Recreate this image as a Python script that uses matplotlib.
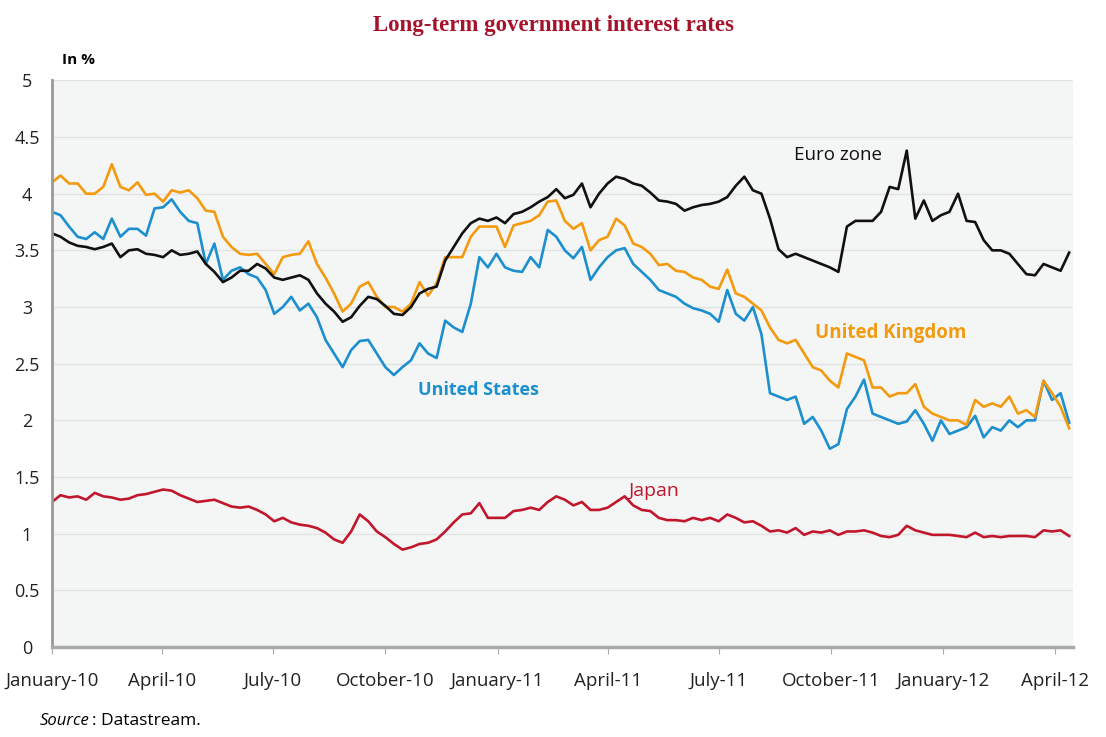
import matplotlib.pyplot as plt
import matplotlib.dates as mdates
import pandas as pd
import datetime as dt

# weekly readings, Jan 2010 - April 2012
dates = pd.date_range('2010-01-01', periods=120, freq='7D')

euro = [3.65, 3.62, 3.57, 3.54, 3.53, 3.51, 3.53, 3.56, 3.44, 3.50,
        3.51, 3.47, 3.46, 3.44, 3.50, 3.46, 3.47, 3.49, 3.38, 3.31,
        3.22, 3.26, 3.32, 3.32, 3.38, 3.34, 3.26, 3.24, 3.26, 3.28,
        3.24, 3.12, 3.03, 2.96, 2.87, 2.91, 3.01, 3.09, 3.07, 3.01,
        2.94, 2.93, 3.00, 3.12, 3.16, 3.18, 3.41, 3.53, 3.65, 3.74,
        3.78, 3.76, 3.79, 3.74, 3.82, 3.84, 3.88, 3.93, 3.97, 4.04,
        3.96, 3.99, 4.09, 3.88, 4.00, 4.09, 4.15, 4.13, 4.09, 4.07,
        4.01, 3.94, 3.93, 3.91, 3.85, 3.88, 3.90, 3.91, 3.93, 3.97,
        4.07, 4.15, 4.03, 4.00, 3.78, 3.51, 3.44, 3.47, 3.44, 3.41,
        3.38, 3.35, 3.31, 3.71, 3.76, 3.76, 3.76, 3.84, 4.06, 4.04,
        4.38, 3.78, 3.94, 3.76, 3.81, 3.84, 4.00, 3.76, 3.75, 3.59,
        3.50, 3.50, 3.47, 3.38, 3.29, 3.28, 3.38, 3.35, 3.32, 3.48]

uk = [4.10, 4.16, 4.09, 4.09, 4.00, 4.00, 4.06, 4.26, 4.06, 4.03,
      4.10, 3.99, 4.00, 3.93, 4.03, 4.01, 4.03, 3.96, 3.85, 3.84,
      3.62, 3.53, 3.47, 3.46, 3.47, 3.38, 3.29, 3.44, 3.46, 3.47,
      3.58, 3.38, 3.26, 3.12, 2.96, 3.03, 3.18, 3.22, 3.09, 3.00,
      3.00, 2.96, 3.03, 3.22, 3.10, 3.21, 3.44, 3.44, 3.44, 3.62,
      3.71, 3.71, 3.71, 3.53, 3.72, 3.74, 3.76, 3.81, 3.93, 3.94,
      3.76, 3.69, 3.74, 3.50, 3.59, 3.62, 3.78, 3.72, 3.56, 3.53,
      3.47, 3.37, 3.38, 3.32, 3.31, 3.26, 3.24, 3.18, 3.16, 3.33,
      3.12, 3.09, 3.03, 2.97, 2.82, 2.71, 2.68, 2.71, 2.59, 2.47,
      2.44, 2.35, 2.29, 2.59, 2.56, 2.53, 2.29, 2.29, 2.21, 2.24,
      2.24, 2.32, 2.12, 2.06, 2.03, 2.00, 2.00, 1.96, 2.18, 2.12,
      2.15, 2.12, 2.21, 2.06, 2.09, 2.03, 2.35, 2.24, 2.12, 1.93]

us = [3.84, 3.81, 3.71, 3.62, 3.60, 3.66, 3.60, 3.78, 3.62, 3.69,
      3.69, 3.63, 3.87, 3.88, 3.95, 3.84, 3.76, 3.74, 3.38, 3.56,
      3.24, 3.32, 3.35, 3.29, 3.26, 3.15, 2.94, 3.00, 3.09, 2.97,
      3.03, 2.91, 2.71, 2.59, 2.47, 2.62, 2.70, 2.71, 2.59, 2.47,
      2.40, 2.47, 2.53, 2.68, 2.59, 2.55, 2.88, 2.82, 2.78, 3.03,
      3.44, 3.35, 3.47, 3.35, 3.32, 3.31, 3.44, 3.35, 3.68, 3.62,
      3.50, 3.43, 3.53, 3.24, 3.35, 3.44, 3.50, 3.52, 3.38, 3.31,
      3.24, 3.15, 3.12, 3.09, 3.03, 2.99, 2.97, 2.94, 2.87, 3.15,
      2.94, 2.88, 3.00, 2.76, 2.24, 2.21, 2.18, 2.21, 1.97, 2.03,
      1.91, 1.75, 1.79, 2.10, 2.21, 2.36, 2.06, 2.03, 2.00, 1.97,
      1.99, 2.09, 1.97, 1.82, 2.00, 1.88, 1.91, 1.94, 2.04, 1.85,
      1.94, 1.91, 2.00, 1.94, 2.00, 2.00, 2.35, 2.18, 2.24, 1.98]

japan = [1.28, 1.34, 1.32, 1.33, 1.30, 1.36, 1.33, 1.32, 1.30, 1.31,
         1.34, 1.35, 1.37, 1.39, 1.38, 1.34, 1.31, 1.28, 1.29, 1.30,
         1.27, 1.24, 1.23, 1.24, 1.21, 1.17, 1.11, 1.14, 1.10, 1.08,
         1.07, 1.05, 1.01, 0.95, 0.92, 1.02, 1.17, 1.11, 1.02, 0.97,
         0.91, 0.86, 0.88, 0.91, 0.92, 0.95, 1.02, 1.10, 1.17, 1.18,
         1.27, 1.14, 1.14, 1.14, 1.20, 1.21, 1.23, 1.21, 1.28, 1.33,
         1.30, 1.25, 1.28, 1.21, 1.21, 1.23, 1.28, 1.33, 1.25, 1.21,
         1.20, 1.14, 1.12, 1.12, 1.11, 1.14, 1.12, 1.14, 1.11, 1.17,
         1.14, 1.10, 1.11, 1.07, 1.02, 1.03, 1.01, 1.05, 0.99, 1.02,
         1.01, 1.03, 0.99, 1.02, 1.02, 1.03, 1.01, 0.98, 0.97, 0.99,
         1.07, 1.03, 1.01, 0.99, 0.99, 0.99, 0.98, 0.97, 1.01, 0.97,
         0.98, 0.97, 0.98, 0.98, 0.98, 0.97, 1.03, 1.02, 1.03, 0.98]

tick_dates = pd.date_range('2010-01-01', periods=10, freq='3MS')
tick_labels = ['January-10', 'April-10', 'July-10', 'October-10', 'January-11',
               'April-11', 'July-11', 'October-11', 'January-12', 'April-12']

c_euro = '#111111'
c_uk = '#f39a0f'
c_us = '#1c8fcf'
c_jp = '#c1172c'

plt.rcParams['font.family'] = ['Open Sans', 'DejaVu Sans']

fig = plt.figure(figsize=(11.06, 7.37), dpi=100)
ax = fig.add_axes([0.047, 0.122, 0.923, 0.769])
ax.set_facecolor('#f4f5f5')

ax.plot(dates, japan, color=c_jp, lw=1.9)
ax.plot(dates, us, color=c_us, lw=1.9)
ax.plot(dates, uk, color=c_uk, lw=1.9)
ax.plot(dates, euro, color=c_euro, lw=1.9)

ax.set_ylim(0, 5)
ax.set_xlim(dt.date(2010, 1, 1), dt.date(2012, 4, 16))
ax.set_yticks([0, 0.5, 1, 1.5, 2, 2.5, 3, 3.5, 4, 4.5, 5])
ax.set_yticklabels(['0', '0.5', '1', '1.5', '2', '2.5', '3', '3.5', '4', '4.5', '5'])
for lbl in ax.get_yticklabels():
    lbl.set_horizontalalignment('center')
ax.grid(axis='y', color='#e2e2e2', lw=1)
ax.set_axisbelow(True)

ax.set_xticks(tick_dates)
ax.set_xticklabels(tick_labels)
ax.tick_params(axis='x', length=5, color='#aaaaaa', labelsize=13.5, pad=13, labelcolor='#222222')
ax.tick_params(axis='y', length=0, labelsize=13, pad=18, labelcolor='#222222')

for s in ['top', 'right']:
    ax.spines[s].set_visible(False)
ax.spines['left'].set_color('#999999')
ax.spines['left'].set_linewidth(2)
ax.spines['bottom'].set_color('#aaaaaa')
ax.spines['bottom'].set_linewidth(2.5)

# labels next to the lines
ax.text(dt.date(2011, 9, 1), 4.3, 'Euro zone', color=c_euro, fontsize=13.5)
ax.text(dt.date(2011, 9, 18), 2.73, 'United Kingdom', color=c_uk, fontsize=13.5, fontweight='bold')
ax.text(dt.date(2010, 10, 28), 2.22, 'United States', color=c_us, fontsize=13, fontweight='bold')
ax.text(dt.date(2011, 4, 18), 1.33, 'Japan', color=c_jp, fontsize=14)

fig.text(0.5, 0.966, 'Long-term government interest rates', ha='center', va='center',
         fontsize=16.5, color='#a5122a', family='Liberation Serif', fontweight='bold')
fig.text(0.056, 0.918, 'In %', fontsize=11, fontweight='bold', va='center')
fig.text(0.036, 0.022, 'Source', fontsize=12, style='italic', va='center')
fig.text(0.083, 0.022, ': Datastream.', fontsize=12.5, va='center')

plt.savefig('out.png', dpi=100)
